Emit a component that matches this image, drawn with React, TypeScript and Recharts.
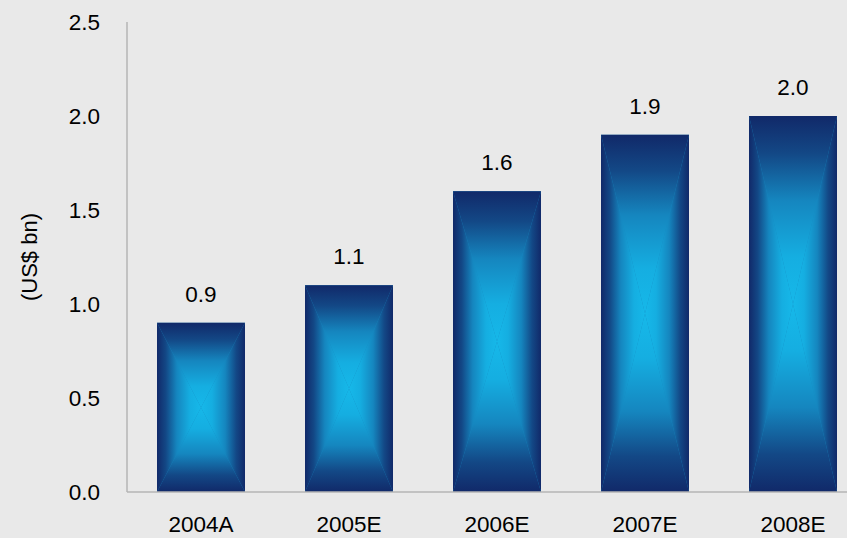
import { BarChart, Bar, XAxis, YAxis, LabelList, Label } from 'recharts'

const years = ['2004A', '2005E', '2006E', '2007E', '2008E']
const revenue = [0.9, 1.1, 1.6, 1.9, 2.0]
const yTicks = [0, 0.5, 1.0, 1.5, 2.0, 2.5]

const data = years.map((year, i) => ({ year, value: revenue[i] }))

const font = '"Liberation Sans", Arial, sans-serif'
const stops: [number, string][] = [
  [0, '#112969'],
  [0.2, '#134886'],
  [0.45, '#1586bf'],
  [0.75, '#15aee1'],
  [1, '#16b8e9'],
]

function Grad({ id, x1, y1, x2, y2 }: { id: string; x1: number; y1: number; x2: number; y2: number }) {
  return (
    <linearGradient id={id} x1={x1} y1={y1} x2={x2} y2={y2}>
      {stops.map(([o, c]) => <stop key={o} offset={o} stopColor={c} />)}
    </linearGradient>
  )
}

// rectangular "from centre" gradient, built from four triangles
function BoxBar(props: any) {
  const { x, y, width: w, height: h } = props
  if (!w || !h) return null
  const cx = x + w / 2
  const cy = y + h / 2
  return (
    <g>
      <defs>
        <Grad id="gTop" x1={0} y1={0} x2={0} y2={1} />
        <Grad id="gBot" x1={0} y1={1} x2={0} y2={0} />
        <Grad id="gLeft" x1={0} y1={0} x2={1} y2={0} />
        <Grad id="gRight" x1={1} y1={0} x2={0} y2={0} />
      </defs>
      <rect x={x} y={y} width={w} height={h} fill="#1586bf" />
      <polygon points={`${x},${y} ${x + w},${y} ${cx},${cy}`} fill="url(#gTop)" />
      <polygon points={`${x},${y + h} ${x + w},${y + h} ${cx},${cy}`} fill="url(#gBot)" />
      <polygon points={`${x},${y} ${x},${y + h} ${cx},${cy}`} fill="url(#gLeft)" />
      <polygon points={`${x + w},${y} ${x + w},${y + h} ${cx},${cy}`} fill="url(#gRight)" />
    </g>
  )
}

export default function App() {
  return (
    <div style={{ position: 'fixed', left: 0, top: 0, width: 847, height: 538, overflow: 'hidden', background: '#e9e9e9' }}>
      <BarChart width={867} height={538} data={data} margin={{ top: 22, right: 0, left: 0, bottom: 0 }}>
        <XAxis
          dataKey="year"
          height={46}
          axisLine={{ stroke: '#b4b4b4', strokeWidth: 1.5 }}
          tickLine={false}
          tickSize={0}
          tickMargin={24}
          tick={{ fill: '#000', fontSize: 22.5, fontFamily: font }}
        />
        <YAxis
          width={127}
          domain={[0, 2.5]}
          ticks={yTicks}
          interval={0}
          axisLine={{ stroke: '#b4b4b4', strokeWidth: 1.5 }}
          tickLine={false}
          tickSize={0}
          tickMargin={27}
          tickFormatter={(v: number) => v.toFixed(1)}
          tick={{ fill: '#000', fontSize: 22.5, fontFamily: font }}
        >
          <Label value="(US$ bn)" angle={-90} position="insideLeft" offset={29} style={{ fill: '#000', fontSize: 22, fontFamily: font, textAnchor: 'middle' }} />
        </YAxis>
        <Bar dataKey="value" barSize={88} shape={<BoxBar />} isAnimationActive={false}>
          <LabelList
            dataKey="value"
            position="top"
            offset={21}
            formatter={(v: any) => Number(v).toFixed(1)}
            style={{ fill: '#000', fontSize: 22.5, fontFamily: font }}
          />
        </Bar>
      </BarChart>
    </div>
  )
}
